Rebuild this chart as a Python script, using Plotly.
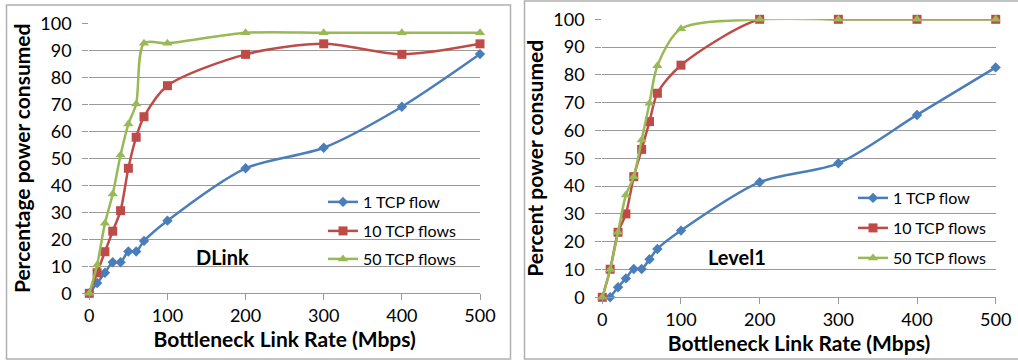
import plotly.graph_objects as go

# ---- Data ----
x_dlink = [0, 10, 20, 30, 40, 50, 60, 70, 100, 200, 300, 400, 500]
dlink_1 = [0, 3.8, 7.6, 11.5, 11.5, 15.5, 15.5, 19.4, 26.9, 46.3, 53.9, 69.1, 88.6]
dlink_10 = [0, 7.6, 15.4, 23.0, 30.6, 46.3, 57.8, 65.4, 76.9, 88.5, 92.4, 88.5, 92.4]
dlink_50 = [0, 10.5, 25.9, 36.8, 51.2, 62.7, 70.1, 92.6, 92.6, 96.5, 96.5, 96.5, 96.5]

x_level1_1 = [10, 20, 30, 40, 50, 60, 70, 100, 200, 300, 400, 500]
level1_1 = [0, 3.6, 6.8, 10.2, 10.2, 13.7, 17.4, 24.0, 41.4, 48.2, 65.6, 82.7]
x_level1 = [0, 10, 20, 30, 40, 50, 60, 70, 100, 200, 300, 400, 500]
level1_10 = [0, 10.1, 23.4, 30.0, 43.4, 53.2, 63.2, 73.4, 83.5, 100, 100, 100, 100]
level1_50 = [0, 10.0, 23.4, 36.8, 43.4, 56.6, 69.8, 83.3, 96.6, 100, 100, 100, 100]

series_names = ["1 TCP flow", "10 TCP flows", "50 TCP flows"]
x_ticks = [0, 100, 200, 300, 400, 500]
y_ticks = [0, 10, 20, 30, 40, 50, 60, 70, 80, 90, 100]

BLUE = "#4A7EBB"
RED = "#BE4B48"
GREEN = "#98B954"
GRID = "#9a9a9a"
FONT = "Lato"

W, H = 1018, 360

def px_x(p):
    return p / W

def px_y(p):
    return 1 - p / H

fig = go.Figure()

styles = [
    (BLUE, "diamond", 8),
    (RED, "square", 9),
    (GREEN, "triangle-up", 9),
]

legend_pos = {
    # (chart, series index): (left px, center y px)
    (0, 0): (323, 202), (0, 1): (323, 231), (0, 2): (323, 259),
    (1, 0): (853, 198), (1, 1): (853, 228), (1, 2): (853, 258),
}
legend_layout = {}
leg_counter = [0]

def add_series(xs, ys, idx, chart, xa, ya):
    c, sym, sz = styles[idx]
    leg_counter[0] += 1
    key = "legend" if leg_counter[0] == 1 else f"legend{leg_counter[0]}"
    lx, ly = legend_pos[(chart, idx)]
    legend_layout[key] = dict(
        x=px_x(lx), y=px_y(ly), xanchor="left", yanchor="middle",
        bgcolor="rgba(0,0,0,0)", borderwidth=0,
        font=dict(family=FONT, size=16, color="#000"),
        itemwidth=30, tracegroupgap=0,
    )
    fig.add_trace(go.Scatter(
        x=xs, y=ys, name=series_names[idx], mode="lines+markers",
        line=dict(color=c, width=2.5, shape="spline", smoothing=0.8),
        marker=dict(color=c, symbol=sym, size=sz),
        xaxis=xa, yaxis=ya, legend=key, cliponaxis=False,
    ))

add_series(x_dlink, dlink_1, 0, 0, "x", "y")
add_series(x_dlink, dlink_10, 1, 0, "x", "y")
add_series(x_dlink, dlink_50, 2, 0, "x", "y")
add_series(x_level1_1, level1_1, 0, 1, "x2", "y2")
add_series(x_level1, level1_10, 1, 1, "x2", "y2")
add_series(x_level1, level1_50, 2, 1, "x2", "y2")

xaxis_common = dict(
    range=[0, 500], tickvals=x_ticks, showgrid=False, zeroline=False,
    showline=True, linecolor=GRID, linewidth=1,
    ticks="outside", ticklen=6, tickcolor=GRID,
    tickfont=dict(family=FONT, size=18, color="#000"),
    title=dict(text="<b>Bottleneck Link Rate (Mbps)</b>",
               font=dict(family=FONT, size=21, color="#000"), standoff=0),
    fixedrange=True, automargin=False,
)
yaxis_common = dict(
    range=[0, 100], tickvals=y_ticks, showgrid=True, gridcolor=GRID, gridwidth=1,
    zeroline=False, showline=False,
    ticks="outside", ticklen=6, tickcolor=GRID, ticklabelstandoff=7,
    tickfont=dict(family=FONT, size=18, color="#000"),
    fixedrange=True, automargin=False,
)

fig.update_layout(
    width=W, height=H,
    margin=dict(l=0, r=0, t=0, b=0),
    paper_bgcolor="white", plot_bgcolor="white",
    showlegend=True,
    xaxis=dict(domain=[px_x(89.3), px_x(480)], anchor="y", **xaxis_common),
    yaxis=dict(domain=[px_y(293.3), px_y(23.3)], anchor="x",
               title=dict(text="<b>Percentage power consumed</b>",
                          font=dict(family=FONT, size=21, color="#000"), standoff=4),
               **yaxis_common),
    xaxis2=dict(domain=[px_x(602.3), px_x(995.7)], anchor="y2", **xaxis_common),
    yaxis2=dict(domain=[px_y(297.3), px_y(19.3)], anchor="x2",
                title=dict(text="<b>Percent power consumed</b>",
                           font=dict(family=FONT, size=21, color="#000"), standoff=4),
                **yaxis_common),
    shapes=[
        dict(type="rect", xref="paper", yref="paper",
             x0=px_x(6.5), x1=px_x(510.5), y0=px_y(359), y1=px_y(5),
             line=dict(color="#b0b0b0", width=1.5), layer="below"),
        dict(type="rect", xref="paper", yref="paper",
             x0=px_x(524.5), x1=px_x(1025), y0=px_y(359), y1=px_y(1),
             line=dict(color="#b0b0b0", width=1.5), layer="below"),
    ],
    annotations=[
        dict(text="<b>DLink</b>", x=px_x(222), y=px_y(257), xref="paper", yref="paper",
             xanchor="center", yanchor="middle",
             showarrow=False, font=dict(family=FONT, size=20, color="#000")),
        dict(text="<b>Level1</b>", x=px_x(737), y=px_y(257), xref="paper", yref="paper",
             xanchor="center", yanchor="middle",
             showarrow=False, font=dict(family=FONT, size=20, color="#000")),
    ],
)
fig.update_layout(**legend_layout)

fig.write_html(
    "out.html",
    config={"displayModeBar": False},
    post_script="document.body.style.margin='0';document.body.style.padding='0';",
)
